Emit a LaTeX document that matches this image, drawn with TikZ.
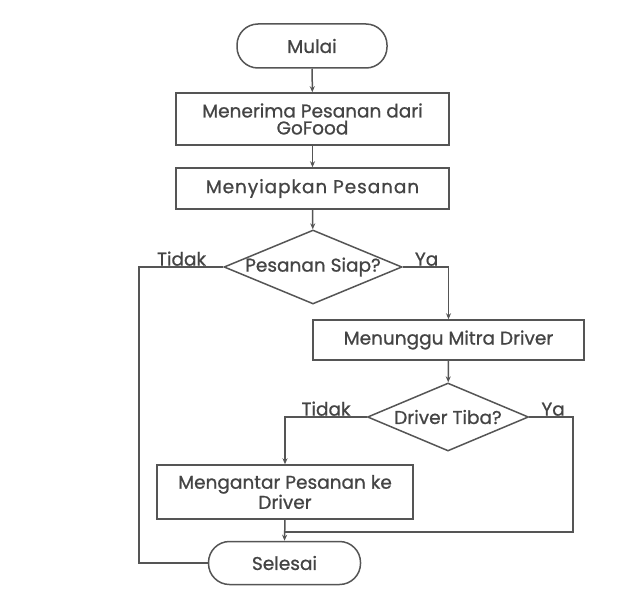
\documentclass[tikz,border=0pt]{standalone}
\usepackage{fontspec}
\setmainfont{Poppins}[FakeBold=0.8,AutoFakeBold=0.8]
\usetikzlibrary{arrows.meta,shapes.geometric}
\definecolor{txt}{HTML}{444444}
\definecolor{ln}{HTML}{555555}
\begin{document}
\begin{tikzpicture}[x=1pt,y=-1pt,
  every node/.style={font=\fontsize{18.5}{17}\selectfont\bfseries, text=txt},
  proc/.style={draw=ln, line width=1.5pt, rectangle, align=center, inner sep=2pt},
  term/.style={draw=ln, line width=1.5pt, rectangle, rounded corners=21pt, align=center, inner sep=2pt},
  dec/.style={draw=ln, line width=1.5pt, diamond, inner sep=0pt},
  conn/.style={draw=ln, line width=1.5pt},
  arr/.style={conn, -{Stealth[length=6pt,width=5pt]}},
  lbl/.style={inner sep=1pt}]
\useasboundingbox[fill=white] (0,0) rectangle (620,599);

\node[term, minimum width=150pt, minimum height=44pt] (mulai) at (312,46) {Mulai};
\node[proc, minimum width=273pt, minimum height=52pt] (b1) at (312.5,119) {Menerima Pesanan dari\\GoFood};
\node[proc, minimum width=273pt, minimum height=41pt] (b2) at (312.5,188.5) {\addfontfeature{LetterSpace=5}Menyiapkan Pesanan};
\node[dec, minimum width=178pt, minimum height=74pt] (d1) at (313,267) {};
\node (d1t) at (d1.center) {Pesanan Siap?};
\node[proc, minimum width=271pt, minimum height=40pt] (b3) at (448.5,340) {Menunggu Mitra Driver};
\node[dec, minimum width=161pt, minimum height=68pt] (d2) at (448,417) {};
\node (d2t) at (d2.center) {Driver Tiba?};
\node[proc, minimum width=256pt, minimum height=54pt] (b4) at (285,492) {Mengantar Pesanan ke\\Driver};
\node[term, minimum width=152pt, minimum height=43pt] (sel) at (284.5,563) {Selesai};

\coordinate (lc) at (139,563);
\coordinate (yaR) at (573,532);
\coordinate (join) at (285,532);

\draw[arr] (mulai) -- (b1);
\draw[arr] (b1) -- (b2);
\draw[arr] (b2) -- (d1);
\draw[arr] (d1.east) -| (b3.north);
\draw[conn] (d1.west) -| (lc) -- (sel.west);
\draw[arr] (b3) -- (d2);
\draw[arr] (d2.west) -| (b4.north);
\draw[conn] (d2.east) -| (yaR) -- (join);
\draw[arr] (b4.south) -- (sel.north);

\node[lbl, anchor=south east] (t1) at ([xshift=-16pt]d1.west) {Tidak};
\node[lbl, anchor=south west] (y1) at ([xshift=11pt]d1.east) {Ya};
\node[lbl, anchor=south east] (t2) at ([xshift=-15pt]d2.west) {Tidak};
\node[lbl, anchor=south west] (y2) at ([xshift=11pt]d2.east) {Ya};
\end{tikzpicture}
\end{document}
